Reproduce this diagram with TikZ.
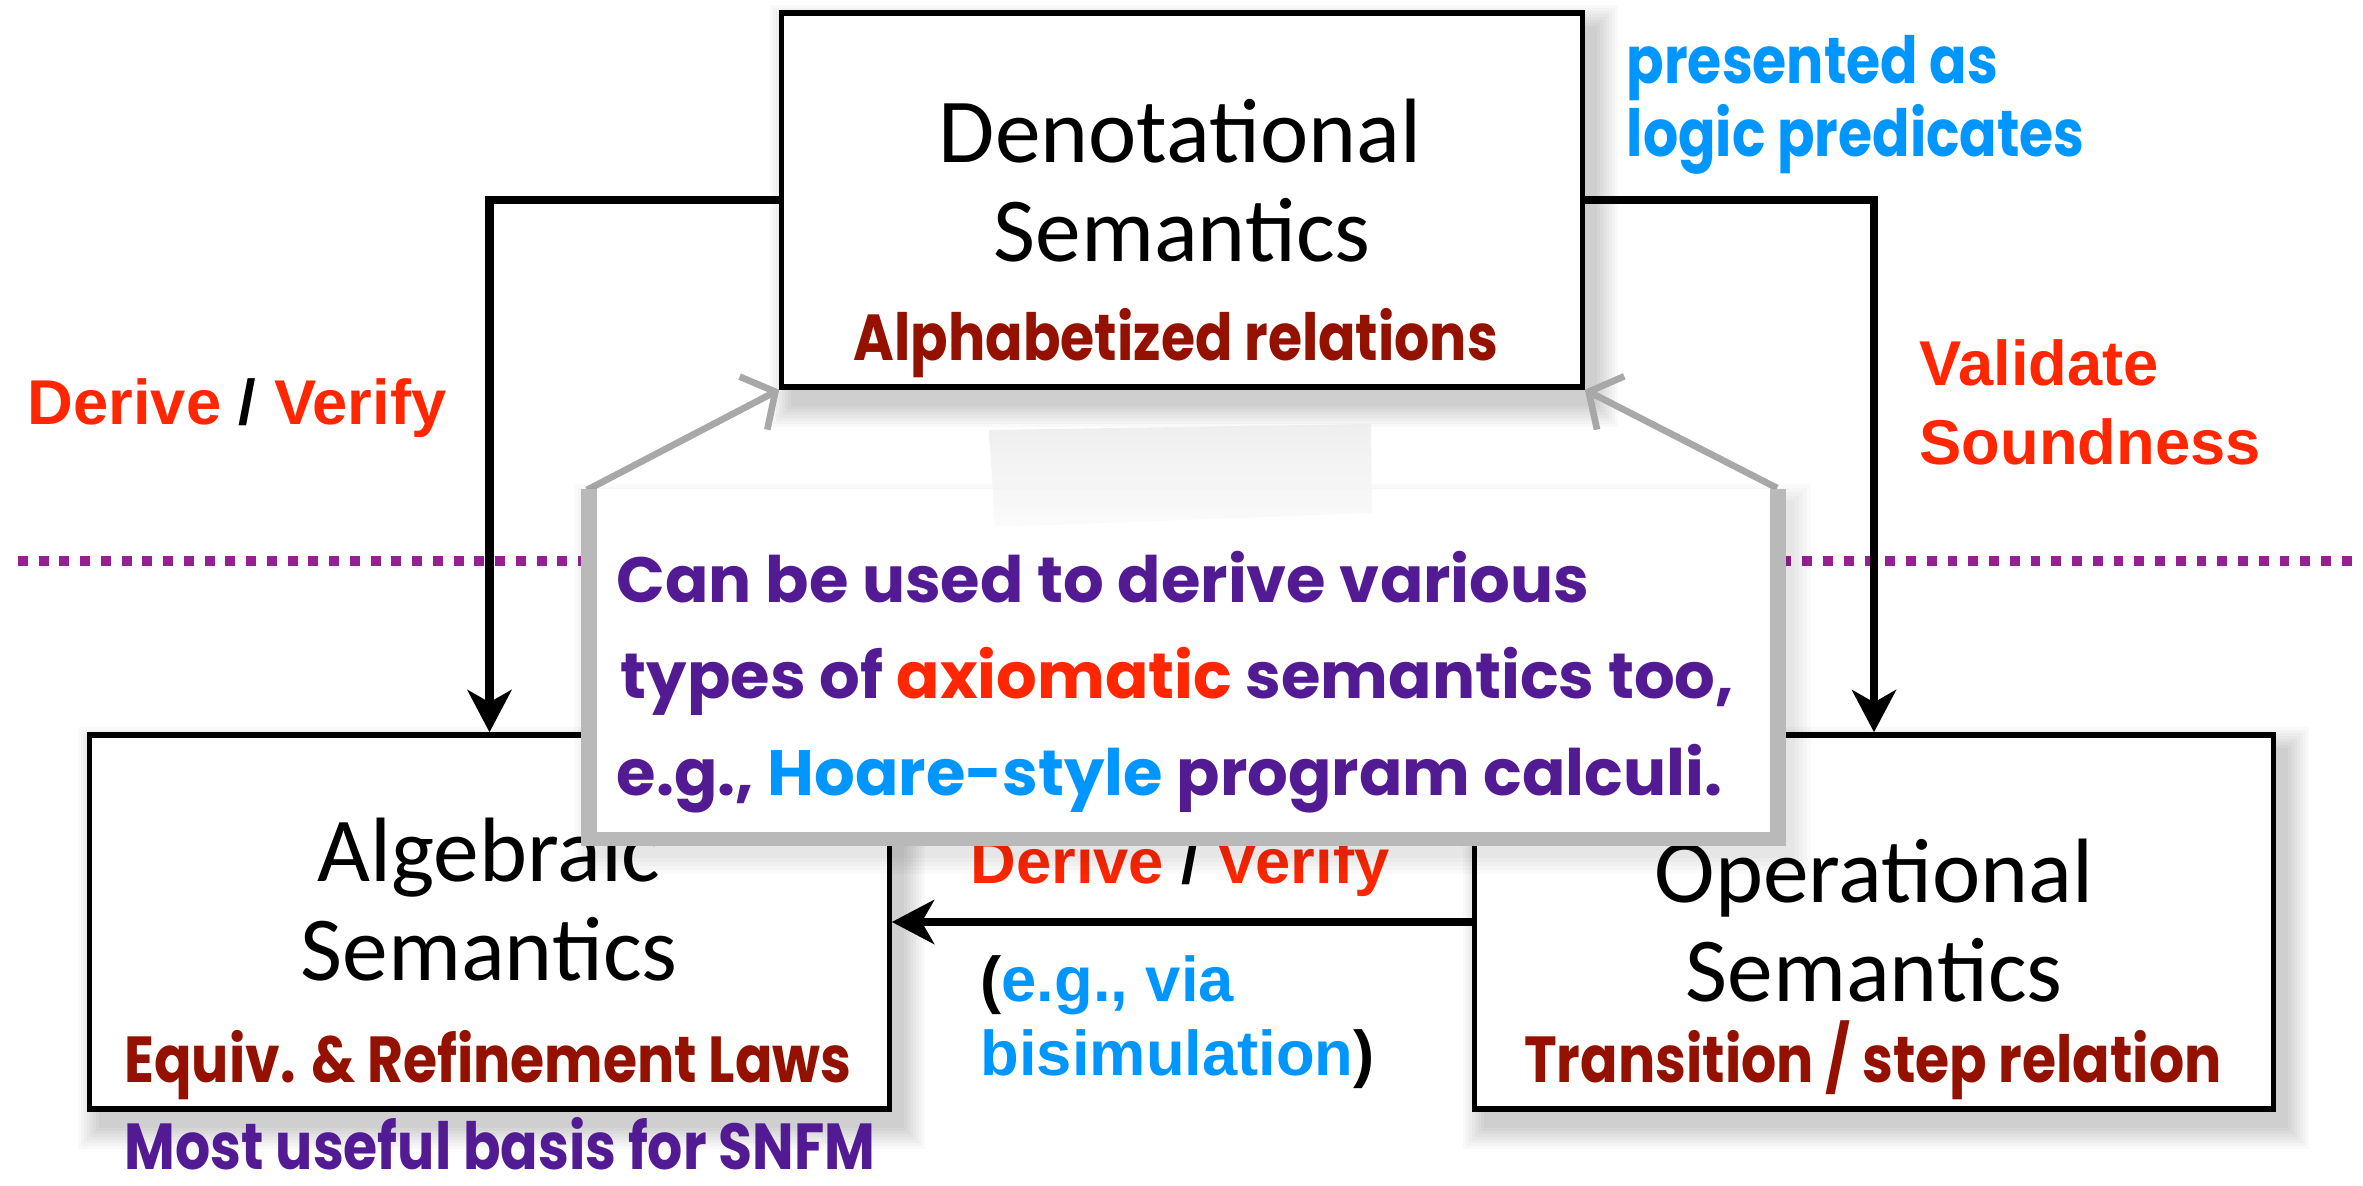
\documentclass[tikz,border=0pt]{standalone}
\usepackage{fontspec}
\setmainfont{Carlito}
\newfontfamily\titlefont{Carlito}
\newfontfamily\labfont[FakeStretch=0.85]{Poppins}
\newfontfamily\arfont{Liberation Sans}
\newfontfamily\notefont{Poppins}
\usetikzlibrary{arrows.meta,calc}
\definecolor{dred}{HTML}{941100}
\definecolor{kred}{HTML}{FF2600}
\definecolor{kblue}{HTML}{0096FF}
\definecolor{kpurple}{HTML}{531B93}
\definecolor{kplum}{HTML}{942193}
\definecolor{arrgray}{HTML}{A8A8A8}
\pgfdeclarelayer{bg}\pgfsetlayers{bg,main}
\newcommand\boxshadow[1]{%
  \begin{pgfonlayer}{bg}
  \foreach \sr in {0,3,...,21}{%
    \fill[black,opacity=0.025] ($(#1.north west)+(12-\sr,16-\sr)$) rectangle ($(#1.south east)+(12+\sr,16+\sr)$);
  }
  \end{pgfonlayer}}
\begin{document}
\begin{tikzpicture}[x=0.01cm,y=-0.01cm,
  semibox/.style={draw=black,line width=1.5pt,fill=white,inner sep=0pt,minimum height=3.74cm},
  conn/.style={line width=2.4pt,-{Stealth[length=12pt,width=12.5pt,inset=3.5pt]}},
  ttl/.style={font=\titlefont\fontsize{26}{30}\selectfont,inner sep=0pt,anchor=base},
  lab/.style={font=\labfont\bfseries\fontsize{18.5}{22}\selectfont,inner sep=0pt},
  arlab/.style={font=\arfont\bfseries\fontsize{18}{21}\selectfont,inner sep=0pt},
  notetext/.style={font=\notefont\bfseries\fontsize{18.2}{21}\selectfont,text=kpurple,inner sep=0pt,anchor=base west},
  garrow/.style={draw=arrgray,line width=1.9pt,-{Straight Barb[length=7pt,width=17pt,line width=1.9pt]}}
]
\begin{pgfonlayer}{bg}
\fill[white] (0,0) rectangle (2363,1186);
\end{pgfonlayer}
\useasboundingbox (0,0) rectangle (2363,1186);

% dotted divider
\coordinate (dvl) at (18,561);
\coordinate (dvr) at (2356,561);
\draw[kplum,line width=2.9pt,dash pattern=on 2.8pt off 3.1pt] (dvl) -- (dvr);

% boxes
\node[semibox,minimum width=8cm] (den) at (1182,200) {};
\node[semibox,minimum width=7.99cm] (alg) at (489.5,922) {};
\node[semibox,minimum width=7.98cm] (op) at (1874,922) {};
\boxshadow{den}
\boxshadow{alg}
\boxshadow{op}

% connectors
\draw[conn] (den.west) -| (alg.north);
\draw[conn] (den.east) -| (op.north);
\draw[conn] (op.west) -- (alg.east);

% box texts
\node[ttl] (dt1) at (1180,163) {Denotational};
\node[ttl] (dt2) at (1182,262) {Semantics};
\node[lab,anchor=base,text=dred] (dl) at (1176,361) {Alphabetized relations};
\node[ttl] (at1) at (489,882) {Algebraic};
\node[ttl] (at2) at (489,981) {Semantics};
\node[lab,anchor=base,text=dred] (al) at (488,1083) {Equiv. \& Refinement Laws};
\node[ttl] (ot1) at (1874,903) {Operational};
\node[ttl] (ot2) at (1874,1002) {Semantics};
\node[lab,anchor=base,text=dred] (ol) at (1873,1083) {Transition / step relation};
\node[lab,anchor=base,text=kpurple,text depth=0pt] (most) at (500,1170) {Most useful basis for SNFM};

% connector labels
\node[arlab,anchor=base west] (dv1) at (27,425) {\textcolor{kred}{Derive} / \textcolor{kred}{Verify}};
\node[arlab,anchor=base west,text=kred] (val1) at (1919,386) {Validate};
\node[arlab,anchor=base west,text=kred] (val2) at (1919,465) {Soundness};
\node[lab,anchor=base west,text=kblue] (pr1) at (1626,84) {presented as};
\node[lab,anchor=base west,text=kblue] (pr2) at (1626,157) {logic predicates};
\node[arlab,anchor=base] (dv2) at (1180,884) {\textcolor{kred}{Derive} / \textcolor{kred}{Verify}};
\node[arlab,anchor=base west] (eg1) at (980,1002) {(\textcolor{kblue}{e.g., via}};
\node[arlab,anchor=base west] (eg2) at (980,1076) {\textcolor{kblue}{bisimulation})};

% note
\coordinate (nTL) at (587,490);
\coordinate (nTR) at (1777,488);
\draw[garrow] (nTL) -- (den.south west);
\draw[garrow] (nTR) -- (den.south east);
\foreach \sr in {0,4,...,16}{%
  \fill[black,opacity=0.02] (590-\sr,500-\sr) rectangle (1795+\sr,858+\sr);
}
\fill[gray!55] (581,489) rectangle (1786,846);
\fill[white] (597,489) rectangle (1770,832);
\shade[top color=gray!16,bottom color=gray!4,opacity=0.8] (989,430) -- (1371,424) -- (1372,513) -- (995,527) -- cycle;
\node[notetext] (n1) at (616,603) {Can be used to derive various};
\node[notetext] (n2) at (620,699) {types of \textcolor{kred}{axiomatic} semantics too,};
\node[notetext] (n3) at (616,796) {e.g., \textcolor{kblue}{Hoare-style} program calculi.};
\end{tikzpicture}
\end{document}
